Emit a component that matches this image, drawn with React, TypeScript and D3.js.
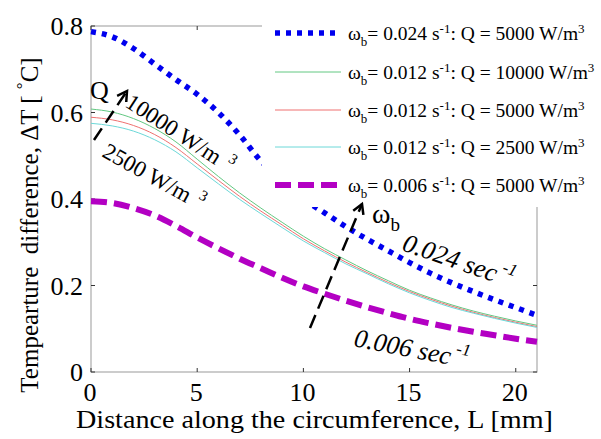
import React from "react";
import * as d3 from "d3";

const distance = [0, 1, 2, 3, 4, 5, 6, 7, 8, 9, 10, 11, 12, 13, 14, 15, 16, 17, 18, 19, 20, 21];
const w024q5000 = [0.787, 0.775, 0.748, 0.712, 0.676, 0.642, 0.6, 0.548, 0.488, 0.443, 0.4, 0.368, 0.336, 0.307, 0.28, 0.253, 0.228, 0.206, 0.186, 0.167, 0.149, 0.131];
const w012q10000 = [0.608, 0.601, 0.586, 0.563, 0.532, 0.492, 0.452, 0.414, 0.379, 0.346, 0.314, 0.285, 0.259, 0.234, 0.211, 0.189, 0.171, 0.155, 0.141, 0.129, 0.118, 0.108];
const w012q5000 = [0.589, 0.583, 0.57, 0.549, 0.519, 0.481, 0.443, 0.406, 0.372, 0.34, 0.308, 0.28, 0.254, 0.23, 0.207, 0.186, 0.168, 0.152, 0.138, 0.126, 0.115, 0.105];
const w012q2500 = [0.575, 0.569, 0.557, 0.537, 0.509, 0.472, 0.435, 0.399, 0.366, 0.334, 0.303, 0.276, 0.25, 0.227, 0.204, 0.183, 0.165, 0.149, 0.136, 0.124, 0.113, 0.103];
const w006q5000 = [0.395, 0.391, 0.379, 0.362, 0.338, 0.311, 0.286, 0.262, 0.24, 0.218, 0.198, 0.181, 0.165, 0.15, 0.136, 0.123, 0.112, 0.102, 0.093, 0.085, 0.077, 0.07];

const xTicks = [0, 5, 10, 15, 20];
const yTicks = [0, 0.2, 0.4, 0.6, 0.8];
const legendW = ["0.024", "0.012", "0.012", "0.012", "0.006"];
const legendQ = ["5000", "10000", "5000", "2500", "5000"];

const SERIES = [
  { values: w024q5000, color: "#0000ee", width: 5.5, dash: "5,6" },
  { values: w012q10000, color: "#62c882", width: 1, dash: null },
  { values: w012q5000, color: "#ef7070", width: 1, dash: null },
  { values: w012q2500, color: "#6cd8d8", width: 1, dash: null },
  { values: w006q5000, color: "#b300c3", width: 6, dash: "16,7" },
];

const FONT = "'Liberation Serif', 'Times New Roman', serif";

function Arrow({ x1, y1, x2, y2 }: { x1: number; y1: number; x2: number; y2: number }) {
  const dx = x2 - x1, dy = y2 - y1;
  const len = Math.hypot(dx, dy);
  const ux = -dx / len, uy = -dy / len;
  const a = Math.PI / 6, L = 11;
  const b1 = [x2 + L * (Math.cos(a) * ux - Math.sin(a) * uy), y2 + L * (Math.sin(a) * ux + Math.cos(a) * uy)];
  const b2 = [x2 + L * (Math.cos(-a) * ux - Math.sin(-a) * uy), y2 + L * (Math.sin(-a) * ux + Math.cos(-a) * uy)];
  return (
    <g stroke="#000" fill="none" strokeWidth={2.5}>
      <line x1={x1} y1={y1} x2={x2} y2={y2} strokeDasharray="14,7" />
      <polyline points={`${b1[0]},${b1[1]} ${x2},${y2} ${b2[0]},${b2[1]}`} />
    </g>
  );
}

export default function App() {
  const left = 91, right = 537, top = 26, bottom = 372;
  const x = d3.scaleLinear().domain([0, 21]).range([left, right]);
  const y = d3.scaleLinear().domain([0, 0.8]).range([bottom, top]);
  const line = d3
    .line<number>()
    .x((_, i) => x(distance[i]))
    .y((v) => y(v))
    .curve(d3.curveMonotoneX);

  const legendRows = [33, 72, 110, 147, 185];

  return (
    <svg
      width={601}
      height={439}
      style={{ position: "absolute", left: 0, top: 0, background: "#fff" }}
      fontFamily={FONT}
    >
      <rect x={0} y={0} width={601} height={439} fill="#fff" />
      {/* axes box */}
      <rect x={left} y={top} width={right - left} height={bottom - top} fill="none" stroke="#999" strokeWidth={1} />
      {/* ticks */}
      {yTicks.map((t) => (
        <g key={"yt" + t} stroke="#333" strokeWidth={1}>
          <line x1={left} x2={left + 4} y1={y(t)} y2={y(t)} />
          <line x1={right - 4} x2={right} y1={y(t)} y2={y(t)} />
        </g>
      ))}
      {xTicks.map((t) => (
        <g key={"xt" + t} stroke="#333" strokeWidth={1}>
          <line x1={x(t)} x2={x(t)} y1={bottom} y2={bottom - 4} />
          <line x1={x(t)} x2={x(t)} y1={top} y2={top + 4} />
        </g>
      ))}
      {/* tick labels */}
      {yTicks.map((t) => (
        <text key={"yl" + t} x={83} y={y(t) + 9} fontSize={26} textAnchor="end" fill="#000">
          {t === 0 ? "0" : d3.format(".1f")(t)}
        </text>
      ))}
      {xTicks.map((t) => (
        <text key={"xl" + t} x={x(t) - 1} y={401} fontSize={26} textAnchor="middle" fill="#000">
          {t}
        </text>
      ))}
      {/* axis titles */}
      <text x={76} y={428} fontSize={26} textLength={477} lengthAdjust="spacingAndGlyphs" fill="#000">
        Distance along the circumference, L [mm]
      </text>
      <text transform="translate(38,225) rotate(-90)" fontSize={25} textAnchor="middle" fill="#000" xmlSpace="preserve">
        Tempearture  difference, ΔT [ <tspan dy={-10} fontSize={17}>°</tspan>
        <tspan dy={10}>C]</tspan>
      </text>

      {/* series */}
      {SERIES.map((s, i) => (
        <path
          key={"s" + i}
          d={line(s.values) || ""}
          fill="none"
          stroke={s.color}
          strokeWidth={s.width}
          strokeDasharray={s.dash || undefined}
        />
      ))}

      {/* annotations */}
      <text x={90} y={99} fontSize={26} fill="#000">Q</text>
      <Arrow x1={94} y1={140} x2={127} y2={91} />
      <text transform="translate(124,106) rotate(33)" fontSize={23} fill="#000">
        10000 W/m<tspan dx={8} dy={-10} fontSize={15}>3</tspan>
      </text>
      <text transform="translate(101,156) rotate(29)" fontSize={23} fill="#000">
        2500 W/m<tspan dx={8} dy={-10} fontSize={15}>3</tspan>
      </text>
      <text transform="translate(401,250) rotate(19)" fontSize={26} fontStyle="italic" fill="#000">
        0.024 sec<tspan dx={4} dy={-12} fontSize={17}>-1</tspan>
      </text>
      <text transform="translate(353,346) rotate(11)" fontSize={26} fontStyle="italic" fill="#000">
        0.006 sec<tspan dx={4} dy={-12} fontSize={17}>-1</tspan>
      </text>

      {/* legend */}
      <rect x={262} y={0} width={339} height={207} fill="#fff" />
      {legendRows.map((ly, i) => {
        const s = SERIES[i];
        return (
          <g key={"lg" + i}>
            <line
              x1={275}
              x2={341}
              y1={ly}
              y2={ly}
              stroke={s.color}
              strokeWidth={s.width}
              strokeDasharray={s.dash || undefined}
            />
            <text x={348} y={ly + 7} fontSize={19.5} fill="#000" xmlSpace="preserve">
              ω<tspan dy={6} fontSize={13}>b</tspan>
              <tspan dy={-6}>= {legendW[i]} s</tspan>
              <tspan dy={-7} fontSize={13}>-1</tspan>
              <tspan dy={7}>: Q = {legendQ[i]} W/m</tspan>
              <tspan dy={-7} fontSize={13}>3</tspan>
            </text>
          </g>
        );
      })}

      <Arrow x1={310} y1={328} x2={362} y2={204} />
      <text x={372} y={223} fontSize={28} fill="#000">
        ω<tspan dy={8} fontSize={19}>b</tspan>
      </text>
    </svg>
  );
}
